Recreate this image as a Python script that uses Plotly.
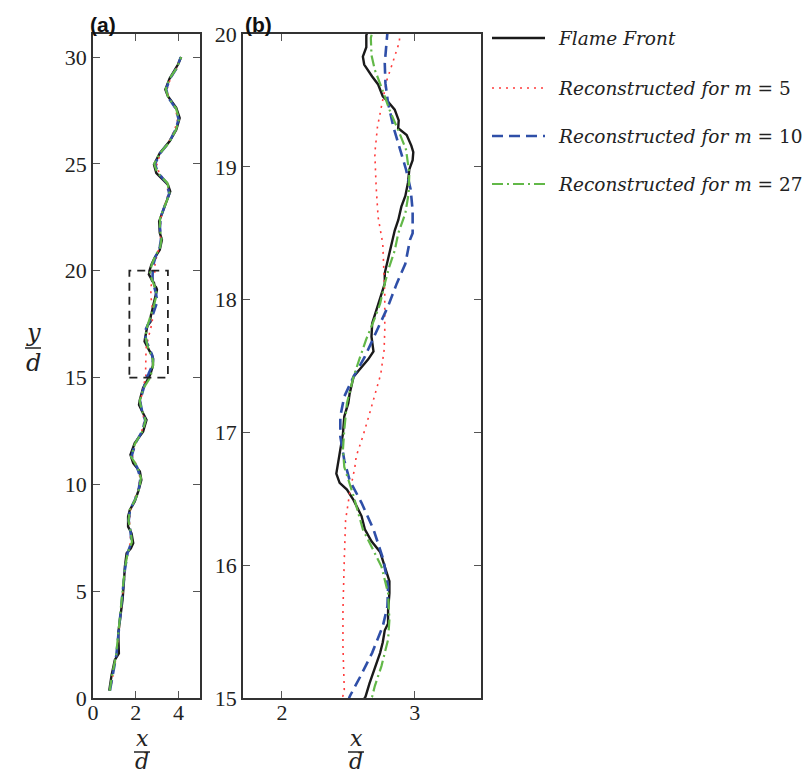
import plotly.graph_objects as go

W, H = 809, 776

# ---------------- data ----------------
# Flame front (y/d, x/d)
front_y = [0.34, 1.08, 1.78, 2.09, 3.03, 3.73, 4.04, 4.59, 5.37, 6.15, 6.78, 7.01, 7.25, 7.71,
           8.02, 8.49, 8.8, 9.2, 9.66, 10.21, 10.6, 10.99, 11.38, 11.93, 12.47, 13.02, 13.33,
           13.72, 13.96, 14.51, 14.75,
           15.01, 15.11, 15.22, 15.34, 15.42, 15.51, 15.56, 15.66, 15.79, 15.88, 15.99, 16.10,
           16.18, 16.27, 16.37, 16.49, 16.57, 16.62, 16.69, 16.79, 16.89, 16.99, 17.12, 17.22,
           17.29, 17.42, 17.48, 17.55, 17.61, 17.72, 17.82, 17.92, 18.02, 18.12, 18.20, 18.30,
           18.40, 18.52, 18.60, 18.70, 18.78, 18.88, 18.98, 19.05, 19.11, 19.16, 19.24, 19.29,
           19.35, 19.43, 19.49, 19.53, 19.62, 19.68, 19.77, 19.83, 19.90, 19.99,
           20.28, 20.6, 20.98, 21.45, 21.77, 22.31, 23.01, 23.71, 24.03, 24.57, 24.97, 25.5,
           26.06, 26.6, 27.15, 27.62, 28.17, 28.48, 29.0, 29.65, 30.0]
front_x = [0.76, 0.87, 1.02, 1.21, 1.18, 1.26, 1.33, 1.38, 1.44, 1.49, 1.57, 1.77, 1.88, 1.80,
           1.64, 1.64, 1.72, 1.95, 2.11, 2.26, 2.19, 1.88, 1.75, 1.95, 2.34, 2.50, 2.34,
           2.15, 2.19, 2.34, 2.47,
           2.63, 2.66, 2.70, 2.74, 2.76, 2.775, 2.80, 2.80, 2.81, 2.81, 2.775, 2.74,
           2.675, 2.625, 2.60, 2.54, 2.49, 2.435, 2.41, 2.425, 2.44, 2.46, 2.47, 2.50,
           2.51, 2.54, 2.59, 2.65, 2.69, 2.675, 2.68, 2.71, 2.74, 2.775, 2.775, 2.80,
           2.82, 2.85, 2.877, 2.90, 2.93, 2.95, 2.96, 2.985, 2.99, 2.975, 2.94, 2.876,
           2.88, 2.85, 2.80, 2.76, 2.725, 2.68, 2.62, 2.61, 2.636, 2.636,
           2.73, 2.88, 3.12, 3.22, 3.12, 3.09, 3.35, 3.61, 3.50, 2.96, 2.85, 3.12,
           3.58, 3.89, 4.05, 3.89, 3.50, 3.38, 3.58, 3.97, 4.12]

# Reconstruction m = 5
m5_y = [0.34, 1.0, 2.0, 3.0, 4.0, 5.0, 6.0, 6.8, 7.3, 7.8, 8.3, 8.8, 9.3, 9.8, 10.3, 10.8, 11.3,
        11.9, 12.5, 13.0, 13.4, 13.9, 14.5,
        15.06, 15.39, 15.66, 16.04, 16.34, 16.54, 16.74, 16.82, 16.97, 17.14, 17.32, 17.44,
        17.62, 17.77, 18.05, 18.42, 18.62, 18.85, 19.10, 19.30, 19.48, 19.65, 19.77, 19.88, 19.94,
        20.3, 20.7, 21.1, 21.5, 22.0, 22.5, 23.0, 23.6, 24.1, 24.6, 25.0, 25.5, 26.0, 26.6,
        27.1, 27.6, 28.1, 28.5, 29.0, 29.5, 30.0]
m5_x = [0.80, 0.92, 1.10, 1.20, 1.30, 1.40, 1.50, 1.62, 1.76, 1.74, 1.70, 1.76, 1.95, 2.12, 2.20,
        2.08, 1.85, 1.98, 2.28, 2.40, 2.30, 2.22, 2.34,
        2.47, 2.46, 2.46, 2.47, 2.48, 2.51, 2.55, 2.56, 2.61, 2.66, 2.71, 2.745,
        2.77, 2.775, 2.775, 2.76, 2.725, 2.71, 2.70, 2.72, 2.755, 2.79, 2.83, 2.865, 2.885,
        2.90, 2.98, 3.10, 3.16, 3.14, 3.18, 3.34, 3.52, 3.44, 3.08, 2.98, 3.16, 3.52, 3.82,
        3.96, 3.84, 3.54, 3.46, 3.62, 3.92, 4.08]

# Reconstruction m = 10
m10_y = [0.34, 1.0, 2.0, 3.0, 4.0, 5.0, 6.0, 6.8, 7.3, 7.8, 8.3, 8.8, 9.3, 9.8, 10.3, 10.8, 11.3,
         11.9, 12.5, 13.0, 13.4, 13.9, 14.5,
         15.01, 15.16, 15.34, 15.54, 15.69, 15.84, 16.04, 16.27, 16.47, 16.64, 16.79, 16.97,
         17.12, 17.27, 17.42, 17.57, 17.75, 17.95, 18.12, 18.27, 18.45, 18.50, 18.67, 18.83,
         18.98, 19.15, 19.30, 19.48, 19.63, 19.78, 19.95,
         20.3, 20.7, 21.1, 21.5, 22.0, 22.5, 23.0, 23.6, 24.1, 24.6, 25.0, 25.5, 26.0, 26.6,
         27.1, 27.6, 28.1, 28.5, 29.0, 29.5, 30.0]
m10_x = [0.79, 0.90, 1.09, 1.19, 1.30, 1.40, 1.49, 1.62, 1.80, 1.75, 1.67, 1.73, 1.97, 2.14, 2.22,
         2.06, 1.80, 1.97, 2.30, 2.44, 2.30, 2.20, 2.36,
         2.51, 2.59, 2.68, 2.76, 2.795, 2.80, 2.765, 2.69, 2.60, 2.51, 2.47, 2.44,
         2.44, 2.47, 2.54, 2.625, 2.71, 2.80, 2.865, 2.93, 2.965, 2.985, 2.985, 2.97,
         2.935, 2.885, 2.84, 2.80, 2.78, 2.775, 2.79,
         2.82, 2.94, 3.12, 3.18, 3.13, 3.16, 3.34, 3.56, 3.46, 3.02, 2.90, 3.14, 3.55, 3.86,
         4.00, 3.86, 3.52, 3.42, 3.60, 3.92, 4.10]

# Reconstruction m = 27
m27_y = [0.34, 1.0, 2.0, 3.0, 4.0, 5.0, 6.0, 6.8, 7.3, 7.8, 8.3, 8.8, 9.3, 9.8, 10.3, 10.8, 11.3,
         11.9, 12.5, 13.0, 13.4, 13.9, 14.5,
         15.01, 15.09, 15.24, 15.44, 15.59, 15.79, 15.99, 16.14, 16.27, 16.52, 16.64, 16.74,
         16.87, 17.02, 17.22, 17.42, 17.57, 17.70, 17.86, 17.97, 18.12, 18.25, 18.37, 18.50,
         18.65, 18.80, 18.95, 19.13, 19.28, 19.43, 19.60, 19.73, 19.84, 19.97,
         20.3, 20.7, 21.1, 21.5, 22.0, 22.5, 23.0, 23.6, 24.1, 24.6, 25.0, 25.5, 26.0, 26.6,
         27.1, 27.6, 28.1, 28.5, 29.0, 29.5, 30.0]
m27_x = [0.78, 0.88, 1.08, 1.18, 1.30, 1.40, 1.48, 1.62, 1.82, 1.76, 1.66, 1.72, 1.98, 2.16, 2.24,
         2.08, 1.78, 1.96, 2.32, 2.46, 2.30, 2.18, 2.36,
         2.68, 2.70, 2.75, 2.80, 2.81, 2.80, 2.75, 2.675, 2.61, 2.54, 2.50, 2.47,
         2.46, 2.47, 2.49, 2.54, 2.59, 2.635, 2.70, 2.74, 2.775, 2.81, 2.85, 2.877,
         2.93, 2.955, 2.96, 2.935, 2.875, 2.81, 2.75, 2.70, 2.675, 2.67,
         2.75, 2.92, 3.14, 3.20, 3.12, 3.14, 3.34, 3.58, 3.48, 3.00, 2.86, 3.12, 3.56, 3.88,
         4.02, 3.88, 3.52, 3.40, 3.58, 3.92, 4.12]

series_names = ["Flame Front", "Reconstructed for m = 5", "Reconstructed for m = 10",
                "Reconstructed for m = 27"]
legend_html = ["<i>Flame Front</i>", "<i>Reconstructed for m</i> = 5",
               "<i>Reconstructed for m</i> = 10", "<i>Reconstructed for m</i> = 27"]

zoom_box_x = [1.7, 3.5]
zoom_box_y = [15, 20]

a_yticks = [0, 5, 10, 15, 20, 25, 30]
a_xticks = [0, 2, 4]
b_yticks = [15, 16, 17, 18, 19, 20]
b_xticks = [2, 3]

# ---------------- styles ----------------
styles = [
    dict(color="#1a1a1a", width=2.4, dash="solid"),
    dict(color="#ff3b3b", width=1.6, dash="2px,5px"),
    dict(color="#2f4fa8", width=2.6, dash="11px,6px"),
    dict(color="#62b848", width=2.2, dash="11px,4px,2px,4px"),
]
data = [(front_x, front_y), (m5_x, m5_y), (m10_x, m10_y), (m27_x, m27_y)]

SERIF = "Times New Roman, Liberation Serif, serif"
MATH = "DejaVu Serif, serif"


def px(x):
    return x / W


def py(y):
    return 1 - y / H


fig = go.Figure()
for (xs, ys), st, nm in zip(data, styles, series_names):
    for xa, ya in (("x", "y"), ("x2", "y2")):
        fig.add_trace(go.Scatter(x=xs, y=ys, mode="lines", name=nm, xaxis=xa, yaxis=ya,
                                 line=dict(color=st["color"], width=st["width"], dash=st["dash"]),
                                 showlegend=False, hoverinfo="skip"))

ydom = [1 - 698 / H, 1 - 34 / H]
tickfont = dict(family=SERIF, size=22, color="#222")
axis_common = dict(showgrid=False, zeroline=False, showline=True, linecolor="#333", linewidth=1.5,
                   mirror="ticks", ticks="inside", ticklen=7, tickcolor="#555", tickwidth=1.3,
                   tickfont=tickfont, automargin=False)
xaxis_extra = dict(ticklabelstandoff=-6)

fig.update_layout(
    width=W, height=H, margin=dict(l=0, r=0, t=0, b=0, pad=0, autoexpand=False),
    paper_bgcolor="white", plot_bgcolor="white",
    xaxis=dict(domain=[px(93), px(200)], range=[0, 5], tickvals=a_xticks, anchor="y",
               **axis_common, **xaxis_extra),
    yaxis=dict(domain=ydom, range=[0, 31.08], tickvals=a_yticks, anchor="x", **axis_common),
    xaxis2=dict(domain=[px(243), px(481)], range=[1.707, 3.5], tickvals=b_xticks, anchor="y2",
                **axis_common, **xaxis_extra),
    yaxis2=dict(domain=ydom, range=[15, 20], tickvals=b_yticks, anchor="x2", **axis_common),
    showlegend=False,
)

# zoom box in panel (a)
fig.add_shape(type="rect", xref="x", yref="y", x0=zoom_box_x[0], x1=zoom_box_x[1],
              y0=zoom_box_y[0], y1=zoom_box_y[1], line=dict(color="#222", width=1.8, dash="8px,6px"))


def note(x, y, text, font, xanchor="center"):
    fig.add_annotation(xref="paper", yref="paper", x=px(x), y=py(y), text=text, showarrow=False,
                       xanchor=xanchor, yanchor="middle", font=font, borderpad=0)


# panel letters
for txt, xx in (("(a)", 103), ("(b)", 258)):
    note(xx, 24, "<b>" + txt + "</b>", dict(family="Liberation Sans, Arial, sans-serif", size=21,
                                            color="#111"))


# fraction labels
def fraction(cx, top_y, line_y, bot_y, num, den, size=24):
    f = dict(family=MATH, size=size, color="#222")
    note(cx, top_y, "<i>" + num + "</i>", f)
    note(cx, bot_y, "<i>" + den + "</i>", f)
    fig.add_shape(type="line", xref="paper", yref="paper", x0=px(cx - 8), x1=px(cx + 8),
                  y0=py(line_y), y1=py(line_y), line=dict(color="#222", width=1.5))


fraction(33, 333, 348, 363, "y", "d")
fraction(142, 738, 752, 761, "x", "d", size=22)
fraction(356, 738, 752, 761, "x", "d", size=22)

# legend (manual)
rows = [38, 88, 136, 184]
for st, lab, ry in zip(styles, legend_html, rows):
    fig.add_shape(type="line", xref="paper", yref="paper", x0=px(492), x1=px(545), y0=py(ry), y1=py(ry),
                  line=dict(color=st["color"], width=st["width"], dash=st["dash"]))
    note(557, ry, lab, dict(family=MATH, size=18.5, color="#222"), xanchor="left")

fig.write_html("out.html")
